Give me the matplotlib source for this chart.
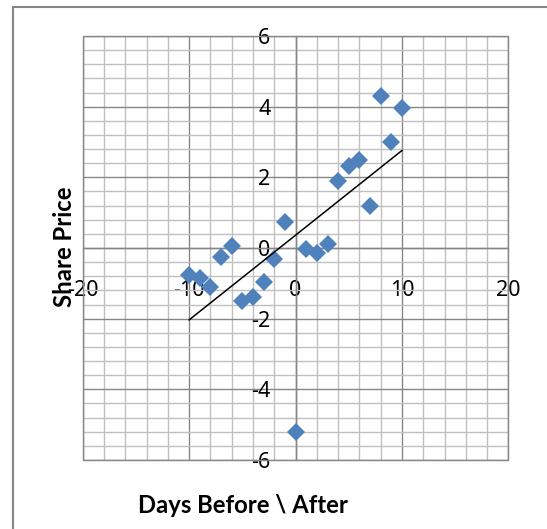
import numpy as np
import matplotlib
matplotlib.use('Agg')
import matplotlib.pyplot as plt
from matplotlib.ticker import MultipleLocator
from matplotlib.patches import Rectangle

plt.rcParams['font.family'] = ['Noto Sans', 'DejaVu Sans']
plt.rcParams['axes.unicode_minus'] = False

# days before / after the event, one point per day
days = [-10, -9, -8, -7, -6, -5, -4, -3, -2, -1, 0, 1, 2, 3, 4, 5, 6, 7, 8, 9, 10]
price = [-0.75, -0.85, -1.1, -0.25, 0.07, -1.5, -1.4, -0.95, -0.3, 0.75, -5.2,
         -0.02, -0.14, 0.11, 1.9, 2.33, 2.5, 1.2, 4.3, 3.0, 3.95]

x_ticks = [-20, -10, 0, 10, 20]
y_ticks = [-6, -4, -2, 0, 2, 4, 6]

fig = plt.figure(figsize=(5.47, 5.29), dpi=100)
ax = fig.add_axes([0.1512, 0.1304, 0.7784, 0.8015])

major_c = '#868686'
minor_c = '#C0C0C0'

ax.set_xlim(-20, 20)
ax.set_ylim(-6, 6)
ax.set_xticks(x_ticks)
ax.set_yticks(y_ticks)
ax.xaxis.set_minor_locator(MultipleLocator(2))
ax.yaxis.set_minor_locator(MultipleLocator(0.4))
ax.set_axisbelow(True)
ax.grid(which='minor', color=minor_c, lw=1.0)
ax.grid(which='major', color=major_c, lw=1.0)

# axis lines cross at the origin, plot area gets its own border
ax.spines['left'].set_position('zero')
ax.spines['bottom'].set_position('zero')
ax.spines['top'].set_visible(False)
ax.spines['right'].set_visible(False)
for s in ['left', 'bottom']:
    ax.spines[s].set_color(major_c)
    ax.spines[s].set_linewidth(1.0)
ax.add_patch(Rectangle((0, 0), 1, 1, transform=ax.transAxes, fill=False,
                       edgecolor=major_c, lw=1.0, zorder=2.5, clip_on=False))

ax.tick_params(which='both', length=0, labelsize=15.5, colors='black')
ax.tick_params(axis='x', pad=23)
ax.tick_params(axis='y', pad=18)

ax.plot(days, price, linestyle='none', marker='D', markersize=9.6,
        color='#4F81BD', markeredgewidth=0, zorder=3)

# linear trend line
k, b = np.polyfit(days, price, 1)
tx = np.array([min(days), max(days)])
ax.plot(tx, k * tx + b, color='black', lw=1.1, zorder=4)

ax.set_xlabel('Days Before \\ After', fontsize=17.2, fontweight='bold', family=['Lato', 'DejaVu Sans'])
ax.set_ylabel('Share Price', fontsize=17.2, fontweight='bold', family=['Lato', 'DejaVu Sans'])
ax.xaxis.set_label_coords(0.3765, -0.0800)
ax.yaxis.set_label_coords(-0.0157, 0.502)

# chart area border (runs off the right and bottom edge)
fig.patches.append(Rectangle((13 / 547, -0.2), 1.2, 0.2 + 1 - 7 / 529,
                             transform=fig.transFigure, fill=False,
                             edgecolor=major_c, lw=1.5))

fig.savefig('out.png', dpi=100)
